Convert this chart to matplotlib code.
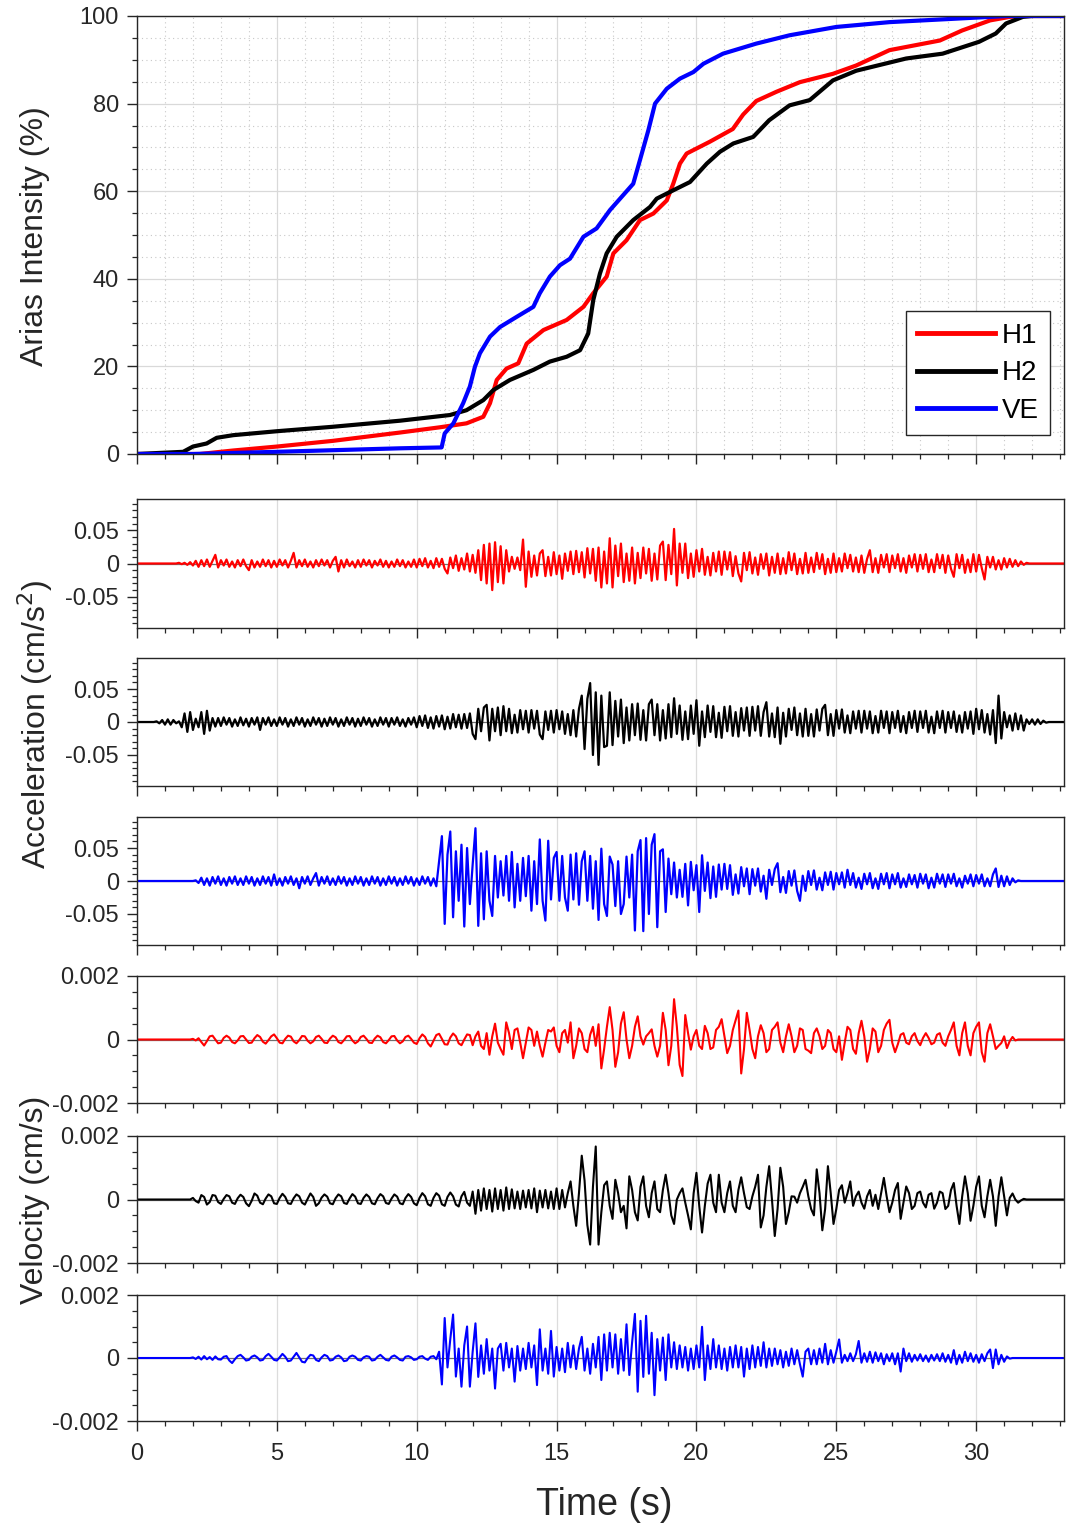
import numpy as np
import matplotlib
matplotlib.use("Agg")
import matplotlib.pyplot as plt
from matplotlib.ticker import MultipleLocator

plt.rcParams["font.family"] = ["Liberation Sans", "DejaVu Sans"]
plt.rcParams["axes.unicode_minus"] = False

# ----------------------------------------------------------------------------------------------------------------------
# Arias intensity (%): (time s, value) break points
AI_H1_T = [0, 2.25, 3.44, 5.0, 7.0, 9.4, 10.83, 11.78, 12.38, 12.62, 12.86, 13.21, 13.63, 13.93, 14.53, 15.36,
           15.96, 16.31, 16.79, 17.03, 17.5, 17.98, 18.46, 18.94, 19.17, 19.41, 19.65, 20.48, 21.3, 21.67, 22.14,
           22.86, 23.7, 24.88, 25.71, 26.9, 28.7, 29.5, 30.5, 31.2, 31.7, 33.2]
AI_H1 = [0, 0, 0.8, 1.7, 3.0, 4.9, 6.1, 7.0, 8.5, 11.6, 16.9, 19.5, 20.7, 25.2, 28.3, 30.6,
         33.6, 36.7, 40.5, 45.8, 48.8, 53.4, 54.9, 57.9, 61.7, 66.3, 68.6, 71.3, 74.2, 77.5, 80.6,
         82.7, 84.9, 86.8, 88.7, 92.2, 94.4, 96.7, 99.0, 99.8, 100, 100]

AI_H2_T = [0, 1.65, 2.0, 2.49, 2.85, 3.44, 5.0, 6.97, 9.4, 11.19, 11.78, 12.38, 12.74, 13.33, 14.17, 14.76,
           15.36, 15.84, 16.13, 16.31, 16.55, 16.79, 17.15, 17.74, 18.34, 18.58, 19.17, 19.77, 20.37, 20.84,
           21.32, 22.03, 22.6, 23.33, 24.05, 24.88, 25.71, 27.5, 28.8, 30.1, 30.7, 31.07, 31.67, 32.0, 33.2]
AI_H2 = [0, 0.5, 1.7, 2.4, 3.7, 4.3, 5.2, 6.2, 7.6, 8.9, 10.0, 12.3, 14.6, 16.9, 19.2, 21.1,
         22.2, 23.7, 27.5, 35.1, 41.2, 45.8, 49.6, 53.4, 56.4, 58.3, 60.2, 62.1, 66.3, 69.0,
         70.9, 72.4, 76.2, 79.6, 80.8, 85.3, 87.5, 90.3, 91.4, 94.1, 96.0, 98.3, 99.8, 100, 100]

AI_VE_T = [0, 2.0, 5.0, 9.4, 10.89, 11.0, 11.31, 11.66, 11.9, 12.08, 12.26, 12.62, 12.98, 13.57, 14.17, 14.4,
           14.76, 15.12, 15.48, 15.96, 16.43, 16.91, 17.74, 17.98, 18.28, 18.52, 18.94, 19.41, 19.89, 20.25,
           20.95, 22.14, 23.33, 25.0, 26.9, 29.3, 31.1, 33.2]
AI_VE = [0, 0, 0.5, 1.3, 1.5, 4.7, 7.0, 11.6, 15.4, 19.9, 23.0, 26.8, 29.0, 31.3, 33.6, 36.7,
         40.5, 43.1, 44.6, 49.6, 51.5, 55.7, 61.7, 67.1, 73.9, 80.0, 83.4, 85.7, 87.2, 89.1,
         91.4, 93.7, 95.6, 97.5, 98.6, 99.4, 100, 100]

# Acceleration, one sample every 0.1 s, in units of 0.001 cm/s^2 (one row = one second)
DT = 0.1
ACC_UNIT = 1e-3
ACC_H1 = [
    0, 0, 0, 0, 0, 0, 0, 0, 0, 0,
    0, 0, 0, 0, 0, 1, -1, 1, -2, 2,
    -3, 4, -5, 5, -4, 6, -5, 4, 13, -6,
    5, -3, 6, -5, 3, -6, 5, -4, 6, -4,
    -10, 5, -6, 3, -5, 6, -4, 5, -6, 4,
    -5, 6, -3, 5, -6, 4, 16, -6, 5, -4,
    6, -5, 3, -6, 5, -4, 6, -3, 5, -6,
    4, 10, -12, 5, -6, 6, -4, 3, -6, 5,
    -5, 6, -3, 5, -6, 4, -3, 6, -5, 4,
    -6, 3, -5, 6, -4, 5, -6, 3, -5, 6,
    -6, 7, -4, 8, -6, 4, -7, 8, -5, 7,
    -8, -15, 9, -7, 12, -11, 8, -9, 15, -12,
    13, -14, 20, -25, 28, -30, 30, -40, 32, -28,
    26, -30, 20, -12, 10, -8, 9, -10, 36, -35,
    18, -20, 12, -18, 15, 20, -19, 10, -18, 17,
    -16, 12, -23, 15, -11, 18, -16, 19, -13, 17,
    -21, 23, -15, 22, -26, 24, -36, 18, -30, 38,
    -36, 27, -19, 30, -28, 15, -26, 24, -30, 16,
    -22, 24, -15, 22, -26, 15, -24, 27, 33, -25,
    28, -16, 52, -33, 30, -14, 30, -22, 15, -20,
    20, -12, 22, -17, 10, -18, 16, -12, 18, -17,
    18, -9, 17, -19, 11, -15, -27, 16, -10, 17,
    -15, 9, -17, 14, -8, 15, -18, 10, -14, 15,
    -16, 8, -15, 17, -10, 15, -16, 7, -15, 16,
    -14, 9, -13, 16, -8, 14, -16, 7, -14, 15,
    -13, 8, -12, 15, -7, 13, -12, 9, -13, 12,
    -14, 7, 20, -13, 8, -14, 13, -6, 14, -13,
    12, -7, 14, -12, 8, -14, 12, -6, 14, -12,
    13, -8, 14, -13, 6, -13, 14, -7, 13, -14,
    12, -8, -20, 14, -7, 13, -14, 6, -13, 14,
    -12, 13, -7, -24, 10, -6, 10, -9, 5, -9,
    8, -6, 7, -5, 5, -4, 3, -2, 1, 0,
    0, 0, 0, 0, 0, 0, 0, 0, 0, 0,
    0, 0,
]
ACC_H2 = [
    0, 0, 0, 0, 0, 0, 0, 1, -2, 3,
    -4, 4, -4, 3, -2, 1, -8, 13, -15, 15,
    -12, 5, -8, 15, -18, 17, -13, 6, -7, 6,
    -6, 7, -4, 6, -7, 4, -6, 7, -5, 5,
    -7, 6, -4, 7, -12, 6, -4, 7, -6, 4,
    -6, 7, -4, 6, -7, 4, -6, 7, -4, 6,
    -7, 4, -6, 7, -4, 6, -7, 5, -6, 7,
    -4, 6, -7, 4, -6, 7, -4, 6, -7, 5,
    -6, 7, -4, 6, -7, 4, -6, 7, -4, 6,
    -7, 6, -4, 7, -6, 4, -7, 6, -4, 7,
    -8, 9, -6, 10, -9, 7, -10, 9, -7, 10,
    -11, 8, -10, 12, -8, 11, -10, 12, -9, 13,
    -18, -26, 20, -14, 22, 26, -28, 20, -14, 22,
    -20, 24, -14, 20, -17, 11, -16, 18, -11, 17,
    -16, 18, -10, 17, -19, -26, 16, -12, 17, -16,
    18, -11, 16, -18, 12, -20, 18, -22, 20, 40,
    -41, 35, 59, -50, 45, -65, 40, -38, -36, 45,
    -35, 32, -22, 34, -32, 22, -28, 27, -20, 28,
    -27, 18, -28, 27, 34, -20, 27, -28, 18, -25,
    27, -23, 36, -18, 25, -27, 16, -26, 25, -18,
    33, -36, 16, -23, 25, -15, 24, -23, 14, -24,
    23, -14, 24, -21, 15, -22, 21, -13, 22, -21,
    23, -13, 24, -21, 15, 30, -22, 13, -23, 22,
    -33, 14, -22, 20, -12, 22, -20, 13, -22, 20,
    -21, 12, -22, 19, -13, 20, 26, -20, 12, -21,
    18, -10, 19, -16, 10, -17, 16, -10, 17, -16,
    17, -10, 16, -17, 9, -16, 17, -9, 16, -17,
    15, -9, 17, -15, 9, -17, 15, -9, 17, -15,
    16, -9, 17, -16, 8, -17, 16, -9, 17, -16,
    15, -9, 16, -15, 10, -16, 15, -10, 16, -18,
    20, -11, 18, -16, 12, -19, 18, -32, 40, -25,
    15, -8, 10, -13, 13, -11, 10, -13, 4, -3,
    4, -4, 4, -3, 2, -1, 0, 0, 0, 0,
    0, 0,
]
ACC_VE = [
    0, 0, 0, 0, 0, 0, 0, 0, 0, 0,
    0, 0, 0, 0, 0, 0, 0, 0, 0, 0,
    0, 1, -3, 5, -6, 4, -7, 6, -4, 7,
    -6, 4, -7, 6, -4, 7, -6, 4, -6, 7,
    -4, 6, -7, 4, -6, 7, -4, 6, -7, 10,
    -6, 4, -7, 6, -4, 7, -6, 4, -11, 6,
    -4, 7, -6, 4, 12, -7, 6, -4, 7, -6,
    4, -6, 7, -4, 6, -7, 4, -6, 7, -4,
    6, -7, 4, -6, 7, -4, 6, -7, 4, -6,
    7, -4, 6, -7, 4, -6, 7, -4, 6, -7,
    4, -6, 7, -4, 6, -7, 4, -8, 30, 68,
    -65, 40, 75, -55, 45, -30, 55, -69, 50, -35,
    25, 80, -68, 42, -58, 45, -30, -53, 38, -25,
    30, -22, 38, -30, 44, -40, 26, -30, 35, -23,
    38, -45, 30, -35, 63, -30, -60, 61, -28, 35,
    44, -30, 38, -25, -45, 40, -28, 42, -36, 30,
    45, -30, 38, -42, 30, -59, 49, -35, -53, 37,
    25, -38, 30, -50, -35, 37, -25, 40, -75, 45,
    62, -76, 65, -50, 55, 71, -70, 45, 48, -47,
    34, -20, 28, -25, 17, -24, 26, -37, 29, -14,
    24, -47, 39, -15, 28, -26, 22, -24, 25, -13,
    26, -12, 24, -21, 10, -19, 21, -8, 19, -20,
    18, -7, 19, -16, 8, -27, 17, -6, 18, 27,
    -17, 6, -18, 15, -7, 16, -15, -30, 8, -15,
    15, -6, 16, -13, 5, -14, 13, -6, 14, -13,
    12, -5, 13, -10, 17, -6, 12, -10, 5, -12,
    11, -5, 12, -11, 4, -12, 11, -5, 12, -11,
    10, -5, 12, -10, 4, -9, 10, -5, 9, -10,
    11, -4, 10, -11, 5, -10, 11, -4, 10, -9,
    10, -4, 11, -8, 4, -10, 8, -4, 10, -8,
    9, -4, 10, -8, 4, -8, 10, 19, -9, 8,
    -8, 7, -6, 4, -2, 1, 0, 0, 0, 0,
    0, 0, 0, 0, 0, 0, 0, 0, 0, 0,
    0, 0,
]

# Velocity, one sample every 0.1 s, in units of 0.00001 cm/s
VEL_UNIT = 1e-5
VEL_H1 = [
    0, 0, 0, 0, 0, 0, 0, 0, 0, 0,
    0, 0, 0, 0, 0, 0, 0, 0, 0, 0,
    2, -3, 4, -8, -19, -5, 10, 12, 0, -12,
    -10, 5, 12, 6, -8, -12, -3, 10, 11, 0,
    -11, -10, 4, 14, 8, -7, -13, -2, 10, 16,
    4, -10, -12, 2, 12, 9, -6, -12, -2, 11,
    10, -4, -12, -6, 8, 12, 2, -10, -11, 3,
    12, 7, -8, -12, -2, 10, 11, -3, -12, -6,
    8, 12, 2, -10, -11, 3, 12, 7, -8, -12,
    -2, 10, 11, -3, -12, -6, 8, 12, 2, -10,
    -14, 4, 16, 8, -12, -22, -4, 14, 18, 2,
    -15, -16, 6, 19, 10, -12, -18, 0, 16, 14,
    -18, 10, 25, -20, -30, 20, -48, 10, 50, -10,
    -30, -48, 54, 20, -30, 30, 35, -10, -59, -10,
    38, 30, -20, 25, -20, -54, -10, 30, 25, 38,
    -20, -40, 20, 30, -10, 54, -59, -20, 35, 20,
    -30, -40, 15, 40, -20, 48, -91, -30, 40, 102,
    30, -86, -40, 50, 86, 0, -59, -20, 40, 73,
    10, -16, 10, 20, 32, -20, -54, -20, 84, 30,
    -81, -20, 127, 40, -80, -115, 77, 20, -32, 10,
    30, -20, -30, 43, 20, -30, -25, 30, 40, 64,
    10, -43, -20, 30, 60, 91, -107, -30, 84, 30,
    -30, -59, 10, 45, 20, -40, -30, 30, 40, 54,
    -10, -40, 10, 48, 10, -40, -20, 35, 30, -30,
    -35, -43, 20, 35, 10, -30, -20, 30, 20, -30,
    -40, 10, -64, -10, 40, 30, -30, -45, 20, 59,
    10, -70, -30, 35, 25, -40, -20, 30, 50, 62,
    -10, -40, -15, 15, 20, -10, -15, 10, 20, -5,
    -18, 5, 20, 5, -15, -10, 15, 20, -10, -20,
    10, 30, 54, -20, -50, 20, 54, -20, -50, 20,
    40, 54, -40, -70, 20, 48, 10, -30, -20, -11,
    10, -27, -5, 8, -3, 0, 0, 0, 0, 0,
    0, 0, 0, 0, 0, 0, 0, 0, 0, 0,
    0, 0,
]
VEL_H2 = [
    0, 0, 0, 0, 0, 0, 0, 0, 0, 0,
    0, 0, 0, 0, 0, 0, 0, 0, 0, 0,
    5, -5, -10, 14, 8, -16, -8, 14, 12, -8,
    -14, 2, 14, 10, -10, -14, 4, 15, 8, -12,
    -21, -4, 19, 12, -10, -15, 3, 16, 10, -12,
    -14, 5, 18, 8, -12, -14, 4, 16, 10, -10,
    -16, 2, 19, 8, -20, -12, 6, 16, 9, -12,
    -15, 4, 16, 10, -11, -14, 3, 17, 9, -12,
    -14, 5, 16, 8, -12, -15, 4, 17, 10, -11,
    -14, 3, 16, 9, -12, -15, 5, 17, 8, -12,
    -18, 5, 20, 10, -15, -20, 5, 20, 12, -15,
    -20, 8, 22, 10, -16, -22, 10, 24, -10, -20,
    25, -45, 30, -35, 35, -30, 30, -38, 35, -30,
    30, -35, 38, -30, 32, -28, 25, -30, 28, -25,
    30, -28, 35, -40, 28, -25, 30, -28, 25, -30,
    35, -30, 30, -25, 20, 57, -20, -83, 20, 138,
    60, -80, -142, 40, 167, -142, -40, 45, 57, -20,
    -61, 62, 20, -40, -20, -91, 73, 30, -40, -66,
    40, 73, -20, -56, 20, 57, -30, -40, 30, 78,
    20, -50, -77, 0, 20, 35, -10, -50, -94, 20,
    84, -20, -104, -20, 50, 78, -10, -40, 78, -10,
    -40, 20, 57, -20, -40, 30, 70, 20, -24, -30,
    10, 40, 78, -88, -50, 40, 105, 0, -115, -30,
    100, 40, -77, -40, 10, 9, -10, 20, 40, 62,
    10, -30, -50, 95, 20, -97, -30, 105, 20, -77,
    -30, 30, 45, -10, 20, 57, -20, 10, 25, -10,
    -29, 10, 30, -20, 15, -30, 20, 68, 10, -40,
    -10, 30, 52, -61, -10, 41, 20, -30, -20, 20,
    25, -10, -25, 15, 20, -29, -10, 25, 20, -30,
    -20, 30, 52, -20, -77, 10, 73, 20, -67, -20,
    40, 73, -20, -56, 10, 62, 10, -83, 10, 70,
    10, -50, 5, 19, 0, -10, -3, 2, 0, 0,
    0, 0, 0, 0, 0, 0, 0, 0, 0, 0,
    0, 0,
]
VEL_VE = [
    0, 0, 0, 0, 0, 0, 0, 0, 0, 0,
    0, 0, 0, 0, 0, 0, 0, 0, 0, 0,
    2, -3, 4, -5, 6, -4, 3, -6, 5, -4,
    -5, 4, 6, -8, -16, -4, 6, 10, 2, -8,
    -6, 4, 8, 2, -8, -6, 6, 13, 4, -6,
    -8, 2, 13, 4, -10, -8, 4, 16, 2, -12,
    -14, 0, 10, 8, -6, -10, 2, 10, 6, -8,
    -6, 4, 8, 2, -10, -8, 4, 8, 4, -6,
    -8, 2, 6, 4, -8, -6, 4, 10, 2, -6,
    -8, 4, 8, 2, -6, -8, 4, 6, 2, -6,
    -4, 4, 6, -2, -6, 4, 6, -4, 20, -84,
    127, -30, 60, 138, -59, 30, -91, 40, 100, -91,
    20, 110, -60, 40, -50, 60, -40, 30, -97, 30,
    45, -40, 48, -30, 30, -75, 38, -40, 30, -35,
    48, -30, 40, -86, 91, -40, 30, -50, 86, -59,
    35, -40, 30, -45, 48, -30, 40, -35, 30, 67,
    -40, 30, -50, 45, -30, 67, -70, 75, -40, 80,
    -30, 75, -50, 60, -40, 107, -54, 50, 140, -107,
    118, -60, 134, -50, 80, -118, 60, -40, 65, -70,
    75, -30, 50, -35, 40, -30, 35, -40, 30, -35,
    40, -30, 99, -70, 40, -35, 60, -30, 40, -35,
    30, -40, 35, -30, 40, -30, 35, -59, 30, -35,
    40, -30, 35, -25, 50, -30, 30, -25, 30, -20,
    25, -30, 20, -25, 30, -20, 25, -20, -59, 20,
    30, -20, 25, -20, 30, -15, 45, -20, 25, -15,
    20, 59, -15, 10, -10, 15, -10, 12, 54, -15,
    15, -12, 20, -15, 18, -10, 15, -20, 12, -10,
    15, -20, 15, -43, 30, -10, 15, -12, 10, -8,
    12, -10, 8, -12, 10, -8, 12, -10, 15, -12,
    10, -15, 25, -20, 10, -15, 20, -10, 15, -12,
    10, -15, 12, -10, 15, 27, -32, 27, -20, 10,
    -12, 5, -2, 0, 0, 0, 0, 0, 0, 0,
    0, 0, 0, 0, 0, 0, 0, 0, 0, 0,
    0, 0,
]

LABELS = ["H1", "H2", "VE"]
COLORS = ["#ff0000", "#000000", "#0000ff"]

# ----------------------------------------------------------------------------------------------------------------------
INK = "#262626"
W, H = 1066, 1530
X_MAX = 33.14
LEFT, WIDTH = 137 / W, 927 / W


def px_axes(fig, top, bottom):
    """ Axes placed by its top / bottom pixel rows in the reference """
    return fig.add_axes([LEFT, 1 - bottom / H, WIDTH, (bottom - top) / H])


def style_axes(ax):
    for s in ax.spines.values():
        s.set_color(INK)
        s.set_linewidth(1.0)
    ax.set_xlim(0, X_MAX)
    ax.xaxis.set_major_locator(MultipleLocator(5))
    ax.xaxis.set_minor_locator(MultipleLocator(1))
    ax.tick_params(which="both", direction="out", colors=INK, labelsize=17, pad=6)
    ax.tick_params(axis="x", pad=9)
    ax.tick_params(which="major", length=7, width=1.0)
    ax.tick_params(which="minor", length=3.5, width=0.9)
    ax.set_axisbelow(True)


fig = plt.figure(figsize=(W / 100, H / 100), dpi=100)

# Arias intensity panel
ax0 = px_axes(fig, 16, 454)
style_axes(ax0)
for t, v, lab, col in zip([AI_H1_T, AI_H2_T, AI_VE_T], [AI_H1, AI_H2, AI_VE], LABELS, COLORS):
    ax0.plot(t, v, color=col, lw=3.0, label=lab)
ax0.set_ylim(0, 100)
ax0.yaxis.set_major_locator(MultipleLocator(20))
ax0.yaxis.set_minor_locator(MultipleLocator(5))
ax0.grid(which="major", color="#d9d9d9", lw=0.9)
ax0.grid(which="minor", color="#c8c8c8", lw=0.8, ls=(0, (1, 3)))
ax0.tick_params(labelbottom=False)
leg = ax0.legend(loc="lower right", bbox_to_anchor=(1050 / W, 1 - 435 / H), bbox_transform=fig.transFigure,
                 borderaxespad=0, fontsize=20, handlelength=2.8, handletextpad=0.25, labelspacing=0.42,
                 borderpad=0.4, fancybox=False, framealpha=1, edgecolor=INK)
leg.get_frame().set_linewidth(1.0)
for line in leg.get_lines():
    line.set_linewidth(3.5)

# acceleration and velocity panels
acc_rows = [(499, 628), (658, 786), (817, 945)]
vel_rows = [(976, 1103), (1136, 1263), (1295, 1421)]

t_acc = [np.arange(len(a)) * DT for a in (ACC_H1, ACC_H2, ACC_VE)]
t_vel = [np.arange(len(v)) * DT for v in (VEL_H1, VEL_H2, VEL_VE)]

axes = []
for (top, bot), t, a, col in zip(acc_rows, t_acc, [ACC_H1, ACC_H2, ACC_VE], COLORS):
    ax = px_axes(fig, top, bot)
    style_axes(ax)
    ax.axhline(0, color="#707070", lw=0.9, zorder=1)
    ax.plot(t, np.array(a) * ACC_UNIT, color=col, lw=1.6, zorder=2)
    ax.set_ylim(-0.097, 0.097)
    ax.set_yticks([-0.05, 0, 0.05])
    ax.set_yticklabels(["-0.05", "0", "0.05"])
    ax.yaxis.set_minor_locator(MultipleLocator(0.01))
    ax.grid(axis="x", which="major", color="#dcdcdc", lw=0.9)
    ax.tick_params(labelbottom=False)
    axes.append(ax)

for (top, bot), t, v, col in zip(vel_rows, t_vel, [VEL_H1, VEL_H2, VEL_VE], COLORS):
    ax = px_axes(fig, top, bot)
    style_axes(ax)
    ax.axhline(0, color="#707070", lw=0.9, zorder=1)
    ax.plot(t, np.array(v) * VEL_UNIT, color=col, lw=1.5, zorder=2)
    ax.set_ylim(-0.002, 0.002)
    ax.set_yticks([-0.002, 0, 0.002])
    ax.set_yticklabels(["-0.002", "0", "0.002"])
    ax.yaxis.set_minor_locator(MultipleLocator(0.0005))
    ax.grid(axis="x", which="major", color="#dcdcdc", lw=0.9)
    ax.tick_params(labelbottom=False)
    axes.append(ax)

axes[-1].tick_params(labelbottom=True)

# shared labels
fig.text(35 / W, 1 - 236 / H, "Arias Intensity (%)", rotation=90, ha="center", va="center",
         fontsize=23, color=INK)
fig.text(35 / W, 1 - 724 / H, "Acceleration (cm/s$^2$)", rotation=90, ha="center", va="center",
         fontsize=23, color=INK)
fig.text(35 / W, 1 - 1200 / H, "Velocity (cm/s)", rotation=90, ha="center", va="center",
         fontsize=23, color=INK)
fig.text(604 / W, 1 - 1505 / H, "Time (s)", ha="center", va="center", fontsize=27, color=INK)

fig.savefig("out.png", dpi=100)
